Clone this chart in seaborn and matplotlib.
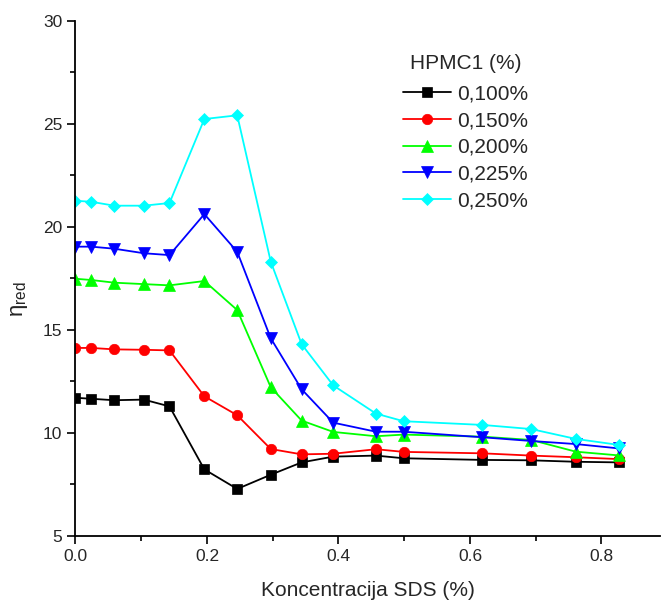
import matplotlib
matplotlib.use("Agg")
import matplotlib.pyplot as plt
import seaborn as sns
import pandas as pd
from matplotlib.ticker import MultipleLocator

sds = [0.0, 0.024, 0.059, 0.104, 0.143, 0.196, 0.246, 0.297, 0.344, 0.392,
       0.457, 0.499, 0.619, 0.693, 0.761, 0.826]

hpmc_100 = [11.70, 11.65, 11.58, 11.61, 11.28, 8.22, 7.27, 7.96, 8.56, 8.84,
            8.89, 8.76, 8.68, 8.66, 8.59, 8.56]
hpmc_150 = [14.12, 14.12, 14.05, 14.03, 14.00, 11.77, 10.85, 9.21, 8.95, 8.98,
            9.20, 9.07, 9.00, 8.89, 8.81, 8.72]
hpmc_200 = [17.48, 17.42, 17.29, 17.22, 17.16, 17.37, 15.96, 12.21, 10.59, 10.04,
            9.83, 9.91, 9.81, 9.65, 9.08, 8.90]
hpmc_225 = [19.04, 19.04, 18.94, 18.72, 18.63, 20.62, 18.79, 14.59, 12.11, 10.49,
            10.05, 10.05, 9.78, 9.60, 9.45, 9.24]
hpmc_250 = [21.27, 21.22, 21.03, 21.03, 21.16, 25.24, 25.42, 18.31, 14.30, 12.30,
            10.93, 10.56, 10.38, 10.18, 9.70, 9.41]

labels = ["0,100%", "0,150%", "0,200%", "0,225%", "0,250%"]
series = [hpmc_100, hpmc_150, hpmc_200, hpmc_225, hpmc_250]
colors = ["#000000", "#FF0000", "#00FF00", "#0000FF", "#00FFFF"]
markers = ["s", "o", "^", "v", "D"]
msizes = [7, 7.5, 8, 8, 6]

sns.set_style("ticks")
plt.rcParams["font.family"] = ["Liberation Sans", "DejaVu Sans"]
plt.rcParams["mathtext.fontset"] = "custom"
plt.rcParams["mathtext.rm"] = "Liberation Sans"
plt.rcParams["mathtext.it"] = "Liberation Sans"

fig = plt.figure(figsize=(6.62, 6.01), dpi=100)
ax = fig.add_axes([0.114, 0.1087, 0.883, 0.8563])

for lab, ys, c, m, ms in zip(labels, series, colors, markers, msizes):
    df = pd.DataFrame({"x": sds, "y": ys})
    sns.lineplot(data=df, x="x", y="y", ax=ax, color=c, marker=m, markersize=ms,
                 markeredgecolor=c, markeredgewidth=0.5, linewidth=1.3, label=lab)

ax.set_xlim(0, 0.889)
ax.set_ylim(5, 30)
ax.xaxis.set_major_locator(MultipleLocator(0.2))
ax.xaxis.set_minor_locator(MultipleLocator(0.1))
ax.yaxis.set_major_locator(MultipleLocator(5))
ax.yaxis.set_minor_locator(MultipleLocator(2.5))
ax.xaxis.set_major_formatter(matplotlib.ticker.FormatStrFormatter("%.1f"))
ax.tick_params(which="major", length=6, width=1.2, labelsize=12.5, direction="out", color="black")
ax.tick_params(which="minor", length=3.5, width=1.2, direction="out", color="black")
for s in ["top", "right"]:
    ax.spines[s].set_visible(False)
for s in ["left", "bottom"]:
    ax.spines[s].set_linewidth(1.3)
    ax.spines[s].set_color("black")

ax.set_xlabel("Koncentracija SDS (%)", fontsize=15, labelpad=12)
ax.set_ylabel(r"$\mathrm{\eta}_{\mathrm{red}}$", fontsize=16)
ax.yaxis.set_label_coords(-0.078, 0.46)

leg = ax.legend(title="HPMC1 (%)", fontsize=15, title_fontsize=15, frameon=False,
                loc="upper left", bbox_to_anchor=(0.536, 0.964),
                handlelength=2.3, handletextpad=0.3, labelspacing=0.37, borderpad=0.2)
leg._legend_box.sep = 8.2

fig.savefig("out.png", dpi=100)
